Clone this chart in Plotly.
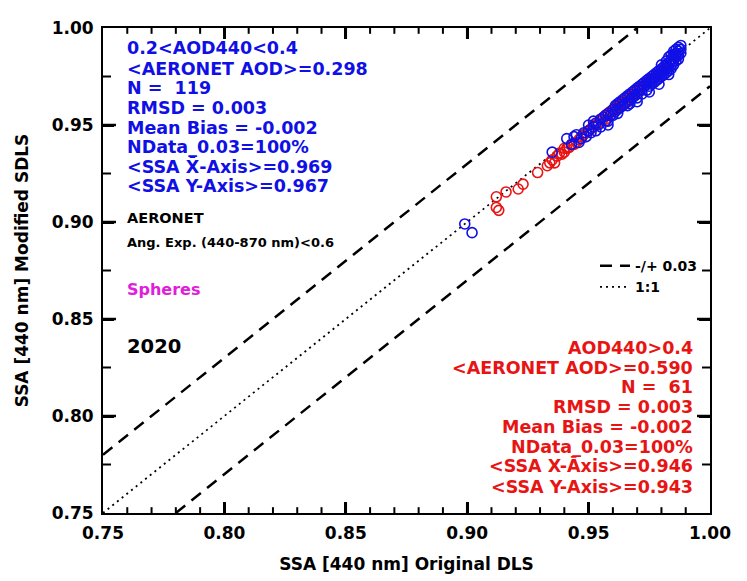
import plotly.graph_objects as go

# ---------------- data ----------------
blue_x = [0.899, 0.902, 0.935, 0.941, 0.943, 0.944, 0.945, 0.946, 0.947, 0.948,
          0.949, 0.950, 0.950, 0.951, 0.952, 0.953, 0.953, 0.954, 0.955, 0.955,
          0.956, 0.957, 0.957, 0.958, 0.958, 0.959, 0.960, 0.960, 0.961, 0.961,
          0.962, 0.962, 0.963, 0.963, 0.964, 0.964, 0.965, 0.965, 0.966, 0.966,
          0.967, 0.967, 0.967, 0.968, 0.968, 0.969, 0.969, 0.970, 0.970, 0.970,
          0.971, 0.971, 0.972, 0.972, 0.972, 0.973, 0.973, 0.974, 0.974, 0.974,
          0.975, 0.975, 0.975, 0.976, 0.976, 0.976, 0.977, 0.977, 0.977, 0.978,
          0.978, 0.978, 0.979, 0.979, 0.979, 0.980, 0.980, 0.980, 0.980, 0.981,
          0.981, 0.981, 0.982, 0.982, 0.982, 0.982, 0.983, 0.983, 0.983, 0.983,
          0.984, 0.984, 0.984, 0.984, 0.985, 0.985, 0.985, 0.985, 0.985, 0.986,
          0.986, 0.986, 0.986, 0.986, 0.987, 0.987, 0.987, 0.987, 0.988, 0.988,
          0.988, 0.966, 0.962, 0.958, 0.970, 0.975, 0.979, 0.983, 0.952]
blue_y = [0.899, 0.8945, 0.936, 0.943, 0.940, 0.944, 0.945, 0.941, 0.943, 0.946,
          0.944, 0.947, 0.950, 0.946, 0.949, 0.951, 0.947, 0.950, 0.953, 0.949,
          0.954, 0.952, 0.955, 0.956, 0.952, 0.955, 0.958, 0.955, 0.957, 0.960,
          0.958, 0.961, 0.959, 0.962, 0.960, 0.963, 0.961, 0.964, 0.962, 0.965,
          0.963, 0.966, 0.961, 0.964, 0.967, 0.965, 0.968, 0.966, 0.969, 0.964,
          0.968, 0.970, 0.968, 0.971, 0.966, 0.970, 0.972, 0.971, 0.973, 0.968,
          0.972, 0.974, 0.970, 0.973, 0.975, 0.971, 0.974, 0.976, 0.972, 0.975,
          0.977, 0.973, 0.976, 0.978, 0.974, 0.977, 0.979, 0.975, 0.981, 0.978,
          0.980, 0.976, 0.979, 0.981, 0.977, 0.983, 0.980, 0.982, 0.985, 0.978,
          0.981, 0.984, 0.986, 0.979, 0.983, 0.986, 0.988, 0.981, 0.984, 0.985,
          0.987, 0.989, 0.983, 0.986, 0.986, 0.988, 0.990, 0.984, 0.987, 0.989,
          0.991, 0.960, 0.956, 0.950, 0.962, 0.967, 0.971, 0.976, 0.952]

red_x = [0.912, 0.912, 0.913, 0.916, 0.921, 0.923, 0.929, 0.933, 0.934, 0.935,
         0.936, 0.937, 0.938, 0.939, 0.940, 0.940, 0.941, 0.942, 0.943, 0.944,
         0.945, 0.946, 0.947, 0.948, 0.949, 0.950, 0.951, 0.952, 0.953, 0.954,
         0.955, 0.956, 0.957, 0.958, 0.959, 0.960, 0.961, 0.962, 0.963, 0.964,
         0.965, 0.966, 0.967, 0.968, 0.969, 0.970, 0.971, 0.972, 0.973, 0.974,
         0.975, 0.976, 0.977, 0.978, 0.979, 0.980, 0.981, 0.957, 0.961, 0.966, 0.970]
red_y = [0.913, 0.9075, 0.906, 0.9155, 0.917, 0.9195, 0.9255, 0.929, 0.9305, 0.932,
         0.9305, 0.934, 0.9355, 0.935, 0.938, 0.936, 0.938, 0.9385, 0.940, 0.940,
         0.941, 0.9425, 0.944, 0.945, 0.946, 0.947, 0.948, 0.950, 0.950, 0.951,
         0.953, 0.953, 0.955, 0.955, 0.957, 0.957, 0.958, 0.960, 0.960, 0.962,
         0.962, 0.964, 0.964, 0.966, 0.966, 0.968, 0.968, 0.970, 0.970, 0.972,
         0.972, 0.974, 0.974, 0.976, 0.976, 0.978, 0.979, 0.953, 0.959, 0.962, 0.967]

axis_min, axis_max = 0.75, 1.00
band = 0.03
major_step = 0.05
x_minor_step = 0.01
y_minor_step = 0.025

blue_lines = ["0.2<AOD440<0.4", "<AERONET AOD>=0.298", "N =\u00a0\u00a0119",
              "RMSD = 0.003", "Mean Bias = -0.002", "NData_0.03=100%",
              "<SSA X\u0304-Axis>=0.969", "<SSA Y-Axis>=0.967"]
red_lines = ["AOD440>0.4", "<AERONET AOD>=0.590", "N =\u00a0\u00a061",
             "RMSD = 0.003", "Mean Bias = -0.002", "NData_0.03=100%",
             "<SSA X-A\u0304xis>=0.946", "<SSA Y-Axis>=0.943"]

BLUE = "#1010e6"
RED = "#e81414"
MAGENTA = "#e020d8"
FONT = "DejaVu Sans"

OFF = 8  # default 8px body margin of the html page
W0, PW, H1, PH = 103, 607, 518, 500   # plot area on screen (px)

fig = go.Figure()

# ---- inward tick marks on all four sides, built from the tick steps ----
span = axis_max - axis_min


def tick_values(step):
    n = int(round(span / step))
    return [round(axis_min + i * step, 4) for i in range(1, n)]


def xtick_segments(vals, length_px):
    dy = length_px / PH * span
    xs, ys = [], []
    for v in vals:
        xs += [v, v, None, v, v, None]
        ys += [axis_min, axis_min + dy, None, axis_max, axis_max - dy, None]
    return xs, ys


def ytick_segments(vals, length_px):
    dx = length_px / PW * span
    xs, ys = [], []
    for v in vals:
        xs += [axis_min, axis_min + dx, None, axis_max, axis_max - dx, None]
        ys += [v, v, None, v, v, None]
    return xs, ys


x_major = tick_values(major_step)
x_minor = [v for v in tick_values(x_minor_step) if v not in x_major]
y_major = tick_values(major_step)
y_minor = [v for v in tick_values(y_minor_step) if v not in y_major]

for (xs, ys), w in ((xtick_segments(x_major, 11), 2.5), (xtick_segments(x_minor, 6), 2),
                    (ytick_segments(y_major, 13), 2.5), (ytick_segments(y_minor, 8), 2)):
    fig.add_trace(go.Scatter(x=xs, y=ys, mode="lines", showlegend=False,
                             hoverinfo="skip", cliponaxis=False,
                             line=dict(color="#000000", width=w)))

# ---- reference lines ----
fig.add_trace(go.Scatter(
    x=[axis_min, axis_max - band, None, axis_min + band, axis_max],
    y=[axis_min + band, axis_max, None, axis_min, axis_max - band],
    mode="lines", line=dict(color="black", width=2.5, dash="12px,8px"),
    name="-/+ 0.03", hoverinfo="skip"))
fig.add_trace(go.Scatter(
    x=[axis_min, axis_max], y=[axis_min, axis_max],
    mode="lines", line=dict(color="black", width=1.8, dash="2px,4px"),
    name="1:1", hoverinfo="skip"))

# ---- data ----
fig.add_trace(go.Scatter(x=red_x, y=red_y, mode="markers", showlegend=False,
                         marker=dict(symbol="circle-open", size=10, color=RED,
                                     line=dict(width=1.6, color=RED))))
fig.add_trace(go.Scatter(x=blue_x, y=blue_y, mode="markers", showlegend=False,
                         marker=dict(symbol="circle-open", size=10, color=BLUE,
                                     line=dict(width=1.6, color=BLUE))))

tickfont = dict(family=FONT, size=17, color="black", weight="bold")
titlefont = dict(family=FONT, size=17, color="black", weight="bold")

common = dict(range=[axis_min, axis_max], tickmode="linear", tick0=axis_min,
              dtick=major_step, tickformat=".2f",
              ticks="inside", ticklen=11, tickwidth=2.5, tickcolor="#000000",
              showline=True, linecolor="black", linewidth=2, mirror="allticks",
              showgrid=False, zeroline=False, tickfont=tickfont, layer="above traces")
fig.update_xaxes(**common, ticklabelstandoff=4,
                 title=dict(text="SSA [440 nm] Original DLS", standoff=16, font=titlefont))
fig.update_yaxes(**common, ticklabelstandoff=4,
                 title=dict(text="SSA [440 nm] Modified SDLS", standoff=19, font=titlefont))

annotations = []


def px(xp):
    return (xp - W0) / PW


def py(yp):
    return (H1 - yp) / PH


blue_y_pix = [39, 60, 80, 100, 121, 141, 161, 181]
for t, yp in zip(blue_lines, blue_y_pix):
    annotations.append(dict(text=t, x=px(125), y=py(yp), xref="paper", yref="paper",
                            xanchor="left", yanchor="middle", showarrow=False,
                            font=dict(family=FONT, size=17.5, color=BLUE, weight="bold")))
red_y_pix = [348, 368, 388, 409, 429, 450, 470, 491]
for t, yp in zip(red_lines, red_y_pix):
    annotations.append(dict(text=t, x=px(695), y=py(yp), xref="paper", yref="paper",
                            xanchor="right", yanchor="middle", showarrow=False,
                            font=dict(family=FONT, size=17.5, color=RED, weight="bold")))

extra = [("AERONET", 214, 14.5, "black"),
         ("Ang. Exp. (440-870 nm)<0.6", 239, 13, "black"),
         ("Spheres", 288, 16, MAGENTA),
         ("2020", 346, 19.5, "black")]
for t, yp, sz, c in extra:
    annotations.append(dict(text=t, x=px(125), y=py(yp), xref="paper", yref="paper",
                            xanchor="left", yanchor="middle", showarrow=False,
                            font=dict(family=FONT, size=sz, color=c, weight="bold")))

fig.update_layout(
    width=747 - OFF, height=581 - OFF,
    margin=dict(l=W0 - OFF, r=37, t=18 - OFF, b=63),
    plot_bgcolor="white", paper_bgcolor="white",
    font=dict(family=FONT, color="black", weight="bold"),
    annotations=annotations,
    showlegend=True,
    legend=dict(x=px(595), y=py(247), xanchor="left", yanchor="top",
                bgcolor="rgba(0,0,0,0)", itemwidth=30, tracegroupgap=0,
                font=dict(family=FONT, size=14, color="black", weight="bold")),
)

fig.write_html("out.html")
